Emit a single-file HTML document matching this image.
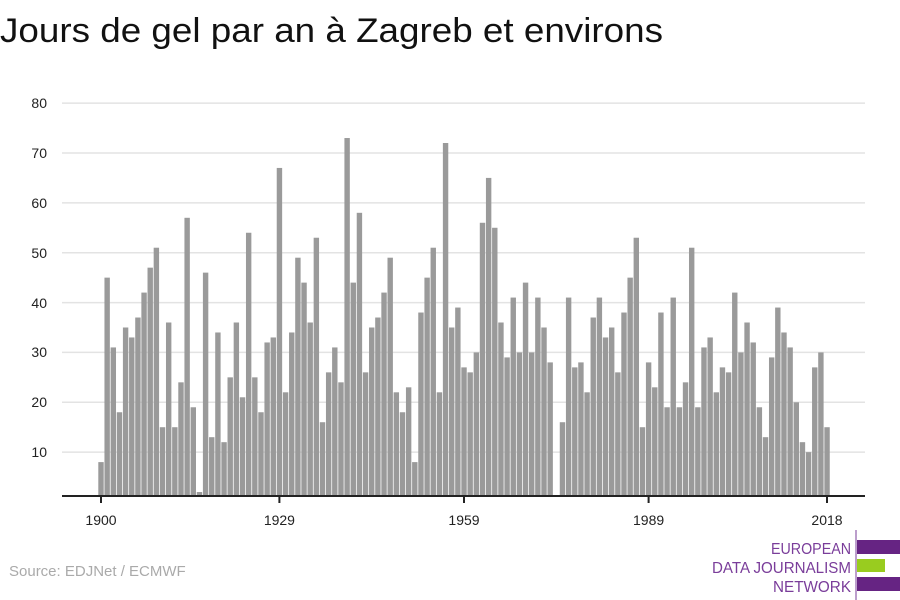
<!DOCTYPE html>
<html><head><meta charset="utf-8"><style>
html,body{margin:0;padding:0;background:#fff;}
svg{display:block;font-family:"Liberation Sans",sans-serif;}
</style></head><body>
<svg id="s" width="900" height="600" viewBox="0 0 900 600" xmlns="http://www.w3.org/2000/svg">
<text x="0" y="42" font-size="34" fill="#111" textLength="663" lengthAdjust="spacingAndGlyphs">Jours de gel par an à Zagreb et environs</text>
<g stroke="#e3e3e3" stroke-width="1.5">
<line x1="62" x2="865" y1="103.1" y2="103.1"/>
<line x1="62" x2="865" y1="153" y2="153"/>
<line x1="62" x2="865" y1="202.9" y2="202.9"/>
<line x1="62" x2="865" y1="252.7" y2="252.7"/>
<line x1="62" x2="865" y1="302.6" y2="302.6"/>
<line x1="62" x2="865" y1="352.4" y2="352.4"/>
<line x1="62" x2="865" y1="402.3" y2="402.3"/>
<line x1="62" x2="865" y1="452.1" y2="452.1"/>
</g>
<g font-size="14" fill="#222" text-anchor="end">
<text x="47" y="108">80</text><text x="47" y="158">70</text><text x="47" y="208">60</text><text x="47" y="258">50</text>
<text x="47" y="308">40</text><text x="47" y="357">30</text><text x="47" y="407">20</text><text x="47" y="457">10</text>
</g>
<g id="bars" fill="#9a9a9a"></g>
<line x1="62" x2="865" y1="496" y2="496" stroke="#222" stroke-width="2"/>
<g stroke="#222" stroke-width="2">
<line x1="101" x2="101" y1="496" y2="503"/><line x1="279.4" x2="279.4" y1="496" y2="503"/>
<line x1="464" x2="464" y1="496" y2="503"/><line x1="648.6" x2="648.6" y1="496" y2="503"/>
<line x1="827" x2="827" y1="496" y2="503"/>
</g>
<g font-size="14" fill="#222" text-anchor="middle">
<text x="101" y="525">1900</text><text x="279.4" y="525">1929</text><text x="464" y="525">1959</text>
<text x="648.6" y="525">1989</text><text x="827" y="525">2018</text>
</g>
<text x="9" y="576" font-size="15" fill="#aaa">Source: EDJNet / ECMWF</text>
<line x1="856" x2="856" y1="530" y2="600" stroke="#7a3d9a" stroke-width="1"/>
<g font-size="16" fill="#7a3d9a" text-anchor="end">
<text x="851" y="554" textLength="80" lengthAdjust="spacingAndGlyphs">EUROPEAN</text>
<text x="851" y="573" textLength="139" lengthAdjust="spacingAndGlyphs">DATA JOURNALISM</text>
<text x="851" y="592" textLength="78" lengthAdjust="spacingAndGlyphs">NETWORK</text>
</g>
<rect x="857" y="540" width="43" height="14" fill="#662483"/>
<rect x="857" y="559" width="28" height="13" fill="#99cc1f"/>
<rect x="857" y="577" width="43" height="14" fill="#662483"/>
</svg>
<script>
var v=[8,45,31,18,35,33,37,42,47,51,15,36,15,24,57,19,2,46,13,34,12,25,36,21,54,25,18,32,33,67,22,34,49,44,36,53,16,26,31,24,73,44,58,26,35,37,42,49,22,18,23,8,38,45,51,22,72,35,39,27,26,30,56,65,55,36,29,41,30,44,30,41,35,28,0,16,41,27,28,22,37,41,33,35,26,38,45,53,15,28,23,38,19,41,19,24,51,19,31,33,22,27,26,42,30,36,32,19,13,29,39,34,31,20,12,10,27,30,15];
var g=document.getElementById('bars'),h='';
for(var i=0;i<v.length;i++){if(!v[i])continue;var cx=101+i*6.153,y=502-4.986*v[i];
h+='<rect x="'+(cx-2.7).toFixed(2)+'" y="'+y.toFixed(2)+'" width="5.4" height="'+(496-y).toFixed(2)+'"/>';}
g.innerHTML=h;
</script>
</body></html>
